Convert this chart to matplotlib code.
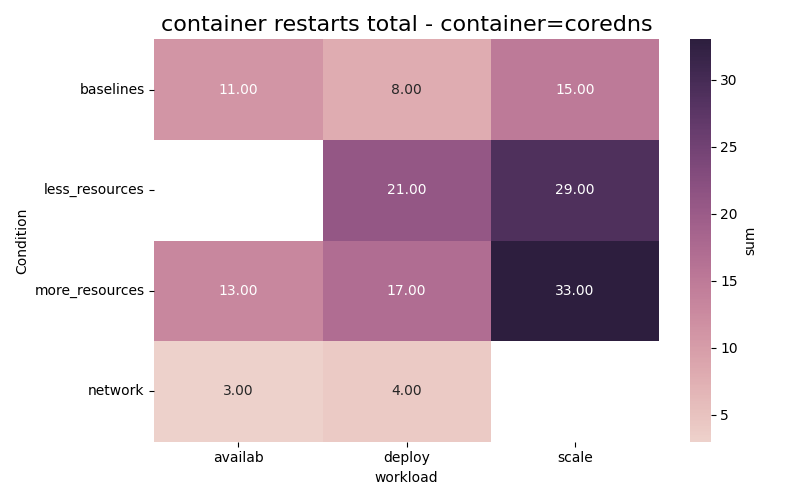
import numpy as np
import pandas as pd
import seaborn as sns
import matplotlib
matplotlib.use('Agg')
import matplotlib.pyplot as plt

# Dati
conditions = ['baselines', 'less_resources', 'more_resources', 'network']
workloads = ['availab', 'deploy', 'scale']
availab = [11, np.nan, 13, 3]
deploy = [8, 21, 17, 4]
scale = [15, 29, 33, np.nan]

df = pd.DataFrame({'availab': availab, 'deploy': deploy, 'scale': scale}, index=conditions)
df.index.name = 'Condition'
df.columns.name = 'workload'

fig, ax = plt.subplots(figsize=(8, 5), dpi=100)
cmap = sns.cubehelix_palette(as_cmap=True)
sns.heatmap(df, annot=True, fmt='.2f', cmap=cmap, cbar_kws={'label': 'sum'}, ax=ax)

# Titolo
ax.set_title('container restarts total - container=coredns', fontsize=16)
ax.set_ylabel('Condition')
ax.set_xlabel('workload')
plt.yticks(rotation=0)

plt.tight_layout()
plt.savefig('out.png')
